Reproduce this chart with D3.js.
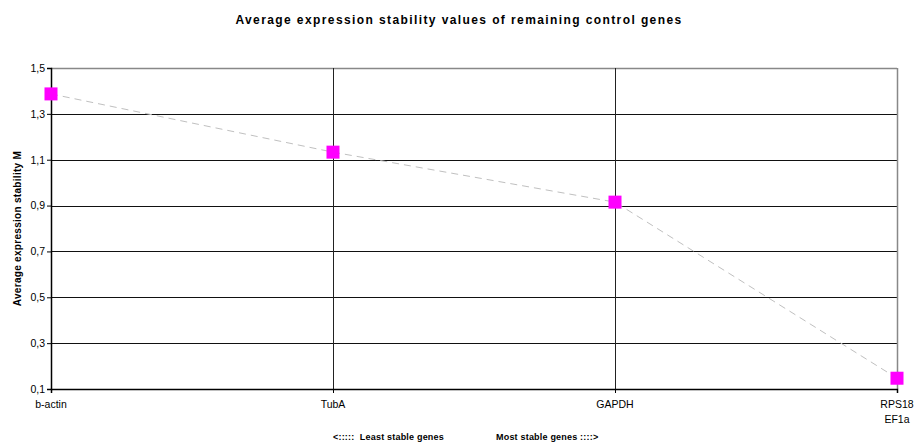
<!DOCTYPE html>
<html>
<head>
<meta charset="utf-8">
<script src="https://cdn.jsdelivr.net/npm/d3@7"></script>
<style>
  body { margin: 0; background: #fff; }
  text { font-family: "Liberation Sans", Arial, sans-serif; fill: #000; }
</style>
</head>
<body>
<svg width="915" height="448"></svg>
<script>
// genes, from least to most stable
var genes = ["b-actin", "TubA", "GAPDH", "RPS18\nEF1a"]
var stability = [1.387, 1.133, 0.915, 0.147]
var yTicks = [0.1, 0.3, 0.5, 0.7, 0.9, 1.1, 1.3, 1.5]

var margins = {left:51, right:18, top:68, bottom:59}
var screen = {width:915, height:448}
var graph = {width:screen.width-margins.left-margins.right,
             height:screen.height-margins.top-margins.bottom}

var svg = d3.select("svg")

var xScale = d3.scalePoint()
    .domain(genes)
    .range([0, graph.width])

var yScale = d3.scaleLinear()
    .domain([0.1, 1.5])
    .range([graph.height, 0])

var target = svg.append("g")
    .attr("id","graph")
    .attr("transform","translate("+margins.left+","+margins.top+")")

// horizontal grid
target.append("g")
    .selectAll("line")
    .data(yTicks.slice(1))
    .enter()
    .append("line")
    .attr("x1",0)
    .attr("x2",graph.width)
    .attr("y1",function(d){return Math.round(yScale(d))+0.5})
    .attr("y2",function(d){return Math.round(yScale(d))+0.5})
    .attr("stroke",function(d){return d==1.5 ? "#888" : "#111"})
    .attr("stroke-width",function(d){return d==1.5 ? 1.5 : 1})

// vertical grid at the categories
target.append("g")
    .selectAll("line")
    .data(genes.slice(1))
    .enter()
    .append("line")
    .attr("x1",function(d){return Math.round(xScale(d))+0.5})
    .attr("x2",function(d){return Math.round(xScale(d))+0.5})
    .attr("y1",0)
    .attr("y2",graph.height)
    .attr("stroke",function(d,i){return i==genes.length-2 ? "#888" : "#222"})
    .attr("stroke-width",function(d,i){return i==genes.length-2 ? 1.5 : 1})

// axes
var yAxis = d3.axisLeft(yScale)
    .tickValues(yTicks)
    .tickSize(4)
    .tickFormat(function(d){return d3.format(".1f")(d).replace(".",",")})

var xAxis = d3.axisBottom(xScale)
    .tickSize(4)
    .tickFormat("")

var ya = target.append("g").call(yAxis)
ya.select(".domain").attr("stroke","#000").attr("stroke-width",1.5)
ya.selectAll(".tick line").attr("stroke","#000")
ya.selectAll("text")
    .attr("font-size","10.5px")
    .attr("x",-6)
    .attr("font-family","Liberation Sans, Arial, sans-serif")

var xa = target.append("g")
    .attr("transform","translate(0,"+graph.height+")")
    .call(xAxis)
xa.select(".domain").attr("stroke","#000").attr("stroke-width",1.5)
xa.selectAll(".tick line").attr("stroke","#000")

// category labels (can be two lines)
var catLabels = target.append("g")
    .selectAll("text")
    .data(genes)
    .enter()
    .append("text")
    .attr("text-anchor","middle")
    .attr("font-size","10.5px")
    .attr("transform",function(d){
        return "translate("+xScale(d)+","+(graph.height+19)+")"})
catLabels.selectAll("tspan")
    .data(function(d){return d.split("\n")})
    .enter()
    .append("tspan")
    .attr("x",0)
    .attr("dy",function(d,i){return i==0 ? 0 : 15})
    .text(function(d){return d})

// dashed line through the points
var lineGenerator = d3.line()
    .x(function(d,i){return xScale(genes[i])})
    .y(function(d){return yScale(d)})

target.append("path")
    .datum(stability)
    .attr("d",lineGenerator)
    .attr("fill","none")
    .attr("stroke","#c0c0c0")
    .attr("stroke-width",1)
    .attr("stroke-dasharray","7,5")

var size = 13
target.append("g")
    .selectAll("rect")
    .data(stability)
    .enter()
    .append("rect")
    .attr("x",function(d,i){return xScale(genes[i])-size/2})
    .attr("y",function(d){return yScale(d)-size/2})
    .attr("width",size)
    .attr("height",size)
    .attr("fill","#ff00ff")

// labels
svg.append("text")
    .text("Average expression stability values of remaining control genes")
    .attr("text-anchor","middle")
    .attr("font-weight","bold")
    .attr("font-size","12px")
    .attr("letter-spacing","1.4px")
    .attr("x",459)
    .attr("y",24)

svg.append("g")
    .attr("transform","translate(21,"+(margins.top+graph.height/2)+")")
    .append("text")
    .text("Average expression stability M")
    .attr("text-anchor","middle")
    .attr("font-weight","bold")
    .attr("font-size","10px")
    .attr("letter-spacing","0.3px")
    .attr("transform","rotate(270)")

svg.append("text")
    .text("<:::::  Least stable genes")
    .attr("font-weight","bold")
    .attr("font-size","9px")
    .attr("letter-spacing","0.2px")
    .attr("x",333)
    .attr("y",440)
    .style("white-space","pre")

svg.append("text")
    .text("Most stable genes ::::>")
    .attr("font-weight","bold")
    .attr("font-size","9px")
    .attr("letter-spacing","0.2px")
    .attr("x",496)
    .attr("y",440)
</script>
</body>
</html>
